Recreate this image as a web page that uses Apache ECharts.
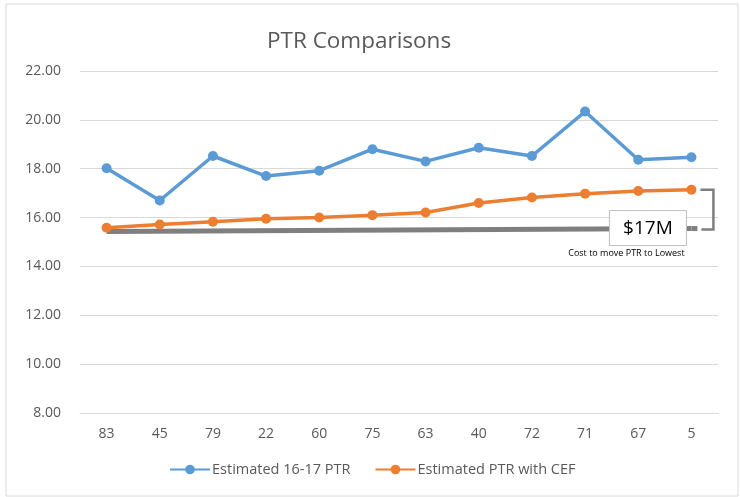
<!DOCTYPE html>
<html>
<head>
<meta charset="utf-8">
<script src="https://cdn.jsdelivr.net/npm/echarts@6/dist/echarts.min.js"></script>
<style>
  html, body { margin: 0; padding: 0; background: #fff; }
  #main { width: 740px; height: 497px; }
</style>
</head>
<body>
<div id="main"></div>
<script>
var categories = ['83', '45', '79', '22', '60', '75', '63', '40', '72', '71', '67', '5'];
var ptr1617 = [18.02, 16.70, 18.52, 17.70, 17.92, 18.80, 18.30, 18.86, 18.52, 20.34, 18.37, 18.47];
var ptrCef = [15.58, 15.72, 15.83, 15.95, 16.00, 16.10, 16.21, 16.60, 16.82, 16.98, 17.09, 17.14];
var lowestLine = [15.43, null, null, null, null, null, null, null, null, null, null, 15.55];
var costLabel = '$17M';
var costCaption = 'Cost to move PTR to Lowest';

var font = '"Open Sans", sans-serif';
var textGrey = '#595959';

var chart = echarts.init(document.getElementById('main'));

var option = {
    animation: false,
    title: {
        text: 'PTR Comparisons',
        left: 262,
        top: 25,
        textStyle: { fontFamily: font, fontSize: 22.5, fontWeight: 'normal', color: textGrey }
    },
    legend: {
        bottom: 15,
        left: 164,
        itemGap: 24,
        itemWidth: 40,
        itemHeight: 12,
        data: ['Estimated 16-17 PTR', 'Estimated PTR with CEF'],
        textStyle: { fontFamily: font, fontSize: 14.5, color: textGrey, padding: [0, 0, 0, -3] }
    },
    grid: { left: 80, right: 22, top: 71, bottom: 84 },
    xAxis: {
        type: 'category',
        data: categories,
        axisLine: { lineStyle: { color: '#d9d9d9' } },
        axisTick: { show: false },
        axisLabel: { fontFamily: font, fontSize: 14, color: textGrey, margin: 14 }
    },
    yAxis: {
        type: 'value',
        min: 8,
        max: 22,
        interval: 2,
        axisLine: { show: false },
        axisTick: { show: false },
        splitLine: { lineStyle: { color: '#d9d9d9' } },
        axisLabel: {
            fontFamily: font, fontSize: 14, color: textGrey, margin: 19,
            formatter: function (v) { return v.toFixed(2); }
        }
    },
    series: [
        {
            name: 'Lowest',
            type: 'line',
            data: lowestLine,
            connectNulls: true,
            symbol: 'none',
            z: 1,
            lineStyle: { color: '#7f7f7f', width: 5 }
        },
        {
            name: 'Estimated 16-17 PTR',
            type: 'line',
            data: ptr1617,
            symbol: 'circle',
            symbolSize: 10,
            z: 3,
            itemStyle: { color: '#5b9bd5' },
            lineStyle: { color: '#5b9bd5', width: 3.5 }
        },
        {
            name: 'Estimated PTR with CEF',
            type: 'line',
            data: ptrCef,
            symbol: 'circle',
            symbolSize: 10,
            z: 2,
            itemStyle: { color: '#ed7d31' },
            lineStyle: { color: '#ed7d31', width: 3.5 }
        }
    ]
};
chart.setOption(option);

// annotation: bracket, value box and caption placed from the axes
var last = categories.length - 1;
var pTop = chart.convertToPixel({ gridIndex: 0 }, [last, ptrCef[last]]);
var pLow = chart.convertToPixel({ gridIndex: 0 }, [last, lowestLine[last]]);
var bx = pTop[0] + 9;

chart.setOption({
    graphic: [
        {
            type: 'rect',
            shape: { x: 6, y: 4, width: 732, height: 492 },
            style: { fill: 'none', stroke: '#d9d9d9', lineWidth: 1 },
            silent: true,
            z: -10
        },
        {
            type: 'polyline',
            shape: { points: [[pTop[0], pLow[1]], [bx - 3, pLow[1]]] },
            style: { stroke: '#7f7f7f', lineWidth: 5, fill: null },
            z: 9
        },
        {
            type: 'polyline',
            shape: { points: [[bx, pTop[1]], [bx + 13, pTop[1]], [bx + 13, pLow[1] + 1], [bx + 1, pLow[1] + 1]] },
            style: { stroke: '#7f7f7f', lineWidth: 2.5, fill: null },
            z: 10
        },
        {
            type: 'rect',
            shape: { x: pTop[0] - 82, y: pLow[1] - 18, width: 77, height: 35 },
            style: { fill: '#fff', stroke: '#bfbfbf', lineWidth: 1 },
            z: 10
        },
        {
            type: 'text',
            x: pTop[0] - 43.5,
            y: pLow[1],
            style: {
                text: costLabel, fontFamily: font, fontSize: 19, fill: '#000',
                align: 'center', verticalAlign: 'middle'
            },
            z: 11
        },
        {
            type: 'text',
            x: pTop[0] - 65,
            y: pLow[1] + 25,
            style: {
                text: costCaption, fontFamily: font, fontSize: 9, fill: '#000',
                align: 'center', verticalAlign: 'middle'
            },
            z: 11
        }
    ]
});
</script>
</body>
</html>
